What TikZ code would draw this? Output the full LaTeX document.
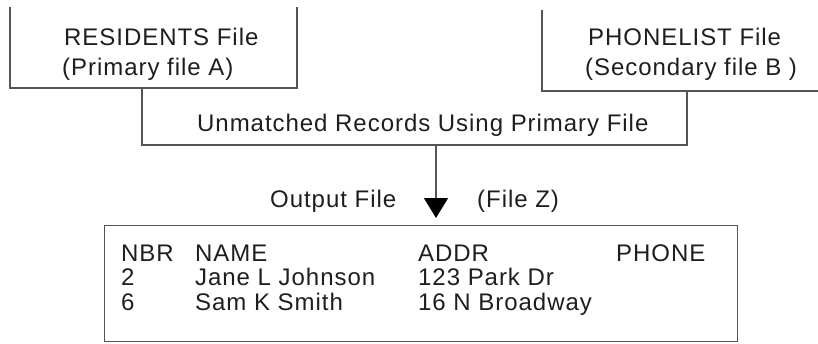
\documentclass[tikz,border=0pt]{standalone}
\usepackage{fontspec}
\setmainfont{Liberation Sans}[LetterSpace=4]
\usetikzlibrary{arrows.meta}
\definecolor{ln}{RGB}{85,85,85}
\definecolor{tx}{RGB}{30,30,30}
\begin{document}
\begin{tikzpicture}[x=1pt,y=-1pt,
  frame/.style={draw=ln,line width=1.4pt},
  lbl/.style={inner sep=0pt,anchor=base west,text=tx,font=\fontsize{24}{28}\selectfont}]
\useasboundingbox (0,0) rectangle (818,343);
% upper left box (open top)
\coordinate (a1) at (10,7);
\coordinate (a2) at (297,88);
\draw[frame] (a1) |- (a2) -- (a2 |- a1);
\node[lbl] (resA) at (64,45) {RESIDENTS File};
\node[lbl] (priA) at (62,75) {(Primary file A)};
% upper right box (open top and right)
\coordinate (b1) at (542,10);
\coordinate (b2) at (818,91);
\draw[frame] (b1) |- (b2);
\node[lbl] (resB) at (588,45) {PHONELIST File};
\node[lbl] (secB) at (585,75) {(Secondary file B )};
% middle box
\coordinate (m1) at (142,88);
\coordinate (m2) at (687,145);
\draw[frame] (m1) |- (m2) -- (m2 |- b2);
\node[lbl] (unm) at (197,131) {Unmatched Records Using Primary File};
% output box
\node[frame,rectangle,inner sep=0pt,minimum width=633pt,minimum height=116pt,anchor=north west] (out) at (104,225) {};
\node[lbl] (outl) at (270,207) {Output File};
\node[lbl] (filez) at (477,207) {(File Z)};
% arrow
\coordinate (src) at (436,145);
\coordinate (tip) at (436,218);
\draw[draw=ln,line width=1.5pt,-{Triangle[width=24pt,length=20pt,color=black]}] (src) -- (tip);
% table
\node[lbl] (h1) at (121,261) {NBR};
\node[lbl] (h2) at (195,261) {NAME};
\node[lbl] (h3) at (418,261) {ADDR};
\node[lbl] (h4) at (616,261) {PHONE};
\node[lbl] (r11) at (121,285) {2};
\node[lbl] (r12) at (195,285) {Jane L Johnson};
\node[lbl] (r13) at (418,285) {123 Park Dr};
\node[lbl] (r21) at (121,310) {6};
\node[lbl] (r22) at (195,310) {Sam K Smith};
\node[lbl] (r23) at (418,310) {16 N Broadway};
\end{tikzpicture}
\end{document}
